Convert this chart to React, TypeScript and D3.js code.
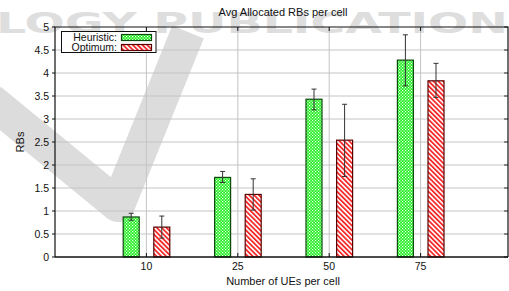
import { useEffect, useRef } from "react";
import * as d3 from "d3";

const categories = ["10", "25", "50", "75"];
const heuristic = [0.87, 1.73, 3.43, 4.28];
const heuristicLo = [0.8, 1.62, 3.2, 3.72];
const heuristicHi = [0.95, 1.86, 3.65, 4.83];
const optimum = [0.65, 1.36, 2.54, 3.83];
const optimumLo = [0.41, 1.02, 1.75, 3.47];
const optimumHi = [0.89, 1.7, 3.32, 4.21];
const yTicks = [0, 0.5, 1, 1.5, 2, 2.5, 3, 3.5, 4, 4.5, 5];

const W = 509;
const H = 291;
const FONT = "'Liberation Sans', Arial, sans-serif";

export default function App() {
  const svgRef = useRef<SVGSVGElement | null>(null);

  useEffect(() => {
    const svg = d3.select(svgRef.current);
    svg.selectAll("*").remove();
    const margin = { top: 27, right: 1, bottom: 34, left: 55 };

    const x = d3
      .scaleLinear()
      .domain([0, 5])
      .range([margin.left, margin.left + 91.4 * 5]);
    const y = d3
      .scaleLinear()
      .domain([0, 5])
      .range([H - margin.bottom, margin.top]);

    const defs = svg.append("defs");
    const gp = defs
      .append("pattern")
      .attr("id", "pat-green")
      .attr("patternUnits", "userSpaceOnUse")
      .attr("width", 3)
      .attr("height", 3);
    gp.append("rect").attr("width", 3).attr("height", 3).attr("fill", "#22ee22");
    gp.append("rect").attr("x", 0).attr("y", 0).attr("width", 1.2).attr("height", 1.2).attr("fill", "#f0fff0");
    gp.append("rect").attr("x", 1.5).attr("y", 1.5).attr("width", 1.2).attr("height", 1.2).attr("fill", "#f0fff0");

    const rp = defs
      .append("pattern")
      .attr("id", "pat-red")
      .attr("patternUnits", "userSpaceOnUse")
      .attr("width", 3.4)
      .attr("height", 3.4)
      .attr("patternTransform", "rotate(-45)");
    rp.append("rect").attr("width", 3.4).attr("height", 3.4).attr("fill", "#ffffff");
    rp.append("rect").attr("width", 1.8).attr("height", 3.4).attr("fill", "#f52a2a");

    // watermark
    svg
      .append("path")
      .attr("d", "M-10,100 L118,205 L188,32")
      .attr("fill", "none")
      .attr("stroke", "#dcdcdc")
      .attr("stroke-width", 34)
      .attr("stroke-linejoin", "round");
    svg
      .append("text")
      .attr("x", -4)
      .attr("y", 33)
      .attr("textLength", 512)
      .attr("lengthAdjust", "spacingAndGlyphs")
      .attr("font-family", "'DejaVu Sans', sans-serif")
      .attr("font-weight", "bold")
      .attr("font-size", 28)
      .attr("fill", "#dedede")
      .text("LOGY PUBLICATION");

    const x0 = margin.left;
    const x1 = W - margin.right;
    const yb = y(0);
    const yt = y(5);

    // grid
    svg
      .append("g")
      .selectAll("line")
      .data(yTicks.slice(1, -1))
      .join("line")
      .attr("x1", x0)
      .attr("x2", x1 - 4)
      .attr("y1", (d) => y(d))
      .attr("y2", (d) => y(d))
      .attr("stroke", "#c4c4c4")
      .attr("stroke-width", 1);
    svg
      .append("g")
      .selectAll("line")
      .data(categories)
      .join("line")
      .attr("x1", (_, i) => x(i + 1))
      .attr("x2", (_, i) => x(i + 1))
      .attr("y1", yt)
      .attr("y2", yb)
      .attr("stroke", "#c4c4c4")
      .attr("stroke-width", 1);

    // bars
    const bw = 16;
    const drawBars = (vals: number[], off: number, fill: string, stroke: string) => {
      svg
        .append("g")
        .selectAll("rect")
        .data(vals)
        .join("rect")
        .attr("x", (_, i) => x(i + 1) + off - bw / 2)
        .attr("y", (d) => y(d))
        .attr("width", bw)
        .attr("height", (d) => yb - y(d))
        .attr("fill", fill)
        .attr("stroke", stroke)
        .attr("stroke-width", 1.2);
    };
    drawBars(heuristic, -15.2, "url(#pat-green)", "#0b4a0b");
    drawBars(optimum, 15.4, "url(#pat-red)", "#5a0000");

    const drawErr = (lo: number[], hi: number[], off: number) => {
      const g = svg.append("g").attr("stroke", "#333").attr("stroke-width", 1);
      lo.forEach((l, i) => {
        const cx = x(i + 1) + off;
        g.append("line").attr("x1", cx).attr("x2", cx).attr("y1", y(l)).attr("y2", y(hi[i]));
        g.append("line").attr("x1", cx - 2.5).attr("x2", cx + 2.5).attr("y1", y(l)).attr("y2", y(l));
        g.append("line").attr("x1", cx - 2.5).attr("x2", cx + 2.5).attr("y1", y(hi[i])).attr("y2", y(hi[i]));
      });
    };
    drawErr(heuristicLo, heuristicHi, -15.2);
    drawErr(optimumLo, optimumHi, 15.4);

    // frame
    svg
      .append("path")
      .attr("d", `M${x0},${yb}V${yt}H${x1}V${yb}`)
      .attr("fill", "none")
      .attr("stroke", "#111")
      .attr("stroke-width", 1.2);
    svg
      .append("line")
      .attr("x1", x0)
      .attr("x2", x1)
      .attr("y1", yb)
      .attr("y2", yb)
      .attr("stroke", "#111")
      .attr("stroke-width", 1.6);

    // ticks
    const tk = svg.append("g").attr("stroke", "#111").attr("stroke-width", 1);
    yTicks.forEach((t) => {
      tk.append("line").attr("x1", x0 - 3).attr("x2", x0).attr("y1", y(t)).attr("y2", y(t));
      tk.append("line").attr("x1", x1 - 4).attr("x2", x1).attr("y1", y(t)).attr("y2", y(t));
    });
    categories.forEach((_, i) => {
      tk.append("line").attr("x1", x(i + 1)).attr("x2", x(i + 1)).attr("y1", yb).attr("y2", yb - 4);
      tk.append("line").attr("x1", x(i + 1)).attr("x2", x(i + 1)).attr("y1", yt).attr("y2", yt + 4);
    });

    const txt = svg.append("g").attr("font-family", FONT).attr("fill", "#111");
    txt
      .selectAll(".yl")
      .data(yTicks)
      .join("text")
      .attr("class", "yl")
      .attr("x", x0 - 6)
      .attr("y", (d) => y(d) + 3.6)
      .attr("text-anchor", "end")
      .attr("font-size", 10.5)
      .text((d) => String(d));
    txt
      .selectAll(".xl")
      .data(categories)
      .join("text")
      .attr("class", "xl")
      .attr("x", (_, i) => x(i + 1))
      .attr("y", 270)
      .attr("text-anchor", "middle")
      .attr("font-size", 10.5)
      .text((d) => d);

    txt
      .append("text")
      .attr("x", 283)
      .attr("y", 16)
      .attr("text-anchor", "middle")
      .attr("font-size", 11)
      .text("Avg Allocated RBs per cell");
    txt
      .append("text")
      .attr("x", 283)
      .attr("y", 285)
      .attr("text-anchor", "middle")
      .attr("font-size", 11)
      .text("Number of UEs per cell");
    txt
      .append("text")
      .attr("transform", "translate(24,142) rotate(-90)")
      .attr("text-anchor", "middle")
      .attr("font-size", 11)
      .text("RBs");

    // legend
    const lg = svg.append("g");
    lg.append("rect")
      .attr("x", 61.5)
      .attr("y", 31.5)
      .attr("width", 94.5)
      .attr("height", 21)
      .attr("fill", "#fff")
      .attr("stroke", "#111")
      .attr("stroke-width", 1);
    const items = [
      { label: "Heuristic:", fill: "url(#pat-green)", stroke: "#0b4a0b" },
      { label: "Optimum:", fill: "url(#pat-red)", stroke: "#5a0000" },
    ];
    items.forEach((it, i) => {
      const cy = 37.5 + i * 10;
      lg.append("text")
        .attr("x", 117)
        .attr("y", cy + 3.5)
        .attr("text-anchor", "end")
        .attr("font-family", FONT)
        .attr("font-size", 10.5)
        .attr("fill", "#111")
        .text(it.label);
      lg.append("rect")
        .attr("x", 121.5)
        .attr("y", cy - 3)
        .attr("width", 30)
        .attr("height", 6)
        .attr("fill", it.fill)
        .attr("stroke", it.stroke)
        .attr("stroke-width", 1.2);
    });
  }, []);

  return (
    <svg
      ref={svgRef}
      width={W}
      height={H}
      style={{ position: "fixed", left: 0, top: 0, background: "#fff" }}
    />
  );
}
